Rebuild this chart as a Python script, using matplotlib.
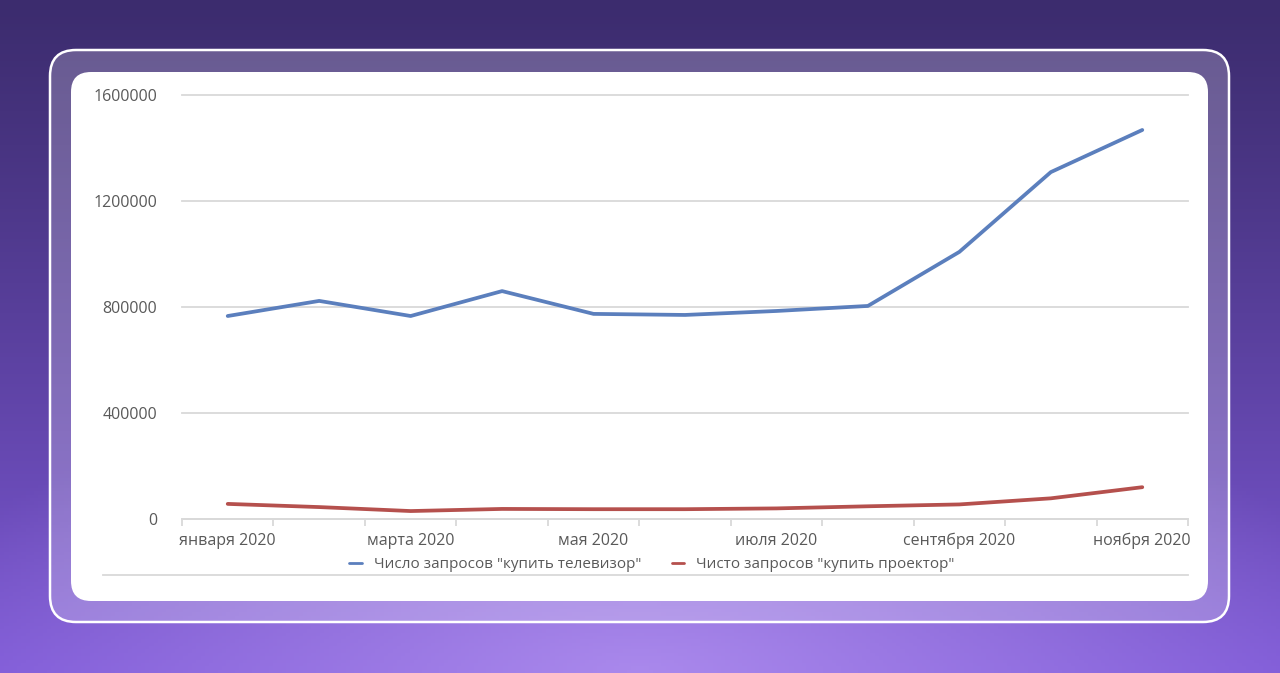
import numpy as np
import matplotlib
matplotlib.use("Agg")
import matplotlib.pyplot as plt
from matplotlib.patches import FancyBboxPatch
from matplotlib.colors import to_rgb

plt.rcParams["font.family"] = ["Open Sans", "DejaVu Sans"]

months = ["января 2020", "февраля 2020", "марта 2020", "апреля 2020", "мая 2020",
          "июня 2020", "июля 2020", "августа 2020", "сентября 2020", "октября 2020",
          "ноября 2020"]
tv_queries = [766000, 823000, 766000, 860000, 774000, 770000, 785000, 804000,
              1008000, 1309000, 1468000]
projector_queries = [57000, 45000, 30000, 38000, 37000, 37000, 40000, 48000,
                     55000, 78000, 120000]
series_names = ['Число запросов "купить телевизор"', 'Чисто запросов "купить проектор"']
y_ticks = [0, 400000, 800000, 1200000, 1600000]

W, H = 1280, 673
fig = plt.figure(figsize=(W / 100, H / 100), dpi=100)

# background gradient
bg = fig.add_axes([0, 0, 1, 1])
bg.set_xlim(0, W)
bg.set_ylim(H, 0)
bg.axis("off")
yy, xx = np.mgrid[0:1:200j, 0:1:300j]
top = np.array(to_rgb("#3c2c6e"))
bot = np.array(to_rgb("#7d58d6"))
glow = np.array(to_rgb("#b595f2"))
t = yy[..., None] ** 1.1
img = top * (1 - t) + bot * t
g = np.clip(1 - np.sqrt(((xx - 0.5) / 0.6) ** 2 + ((yy - 1.0) / 0.45) ** 2), 0, 1)[..., None]
img = img * (1 - 0.8 * g) + glow * 0.8 * g
bg.imshow(img, extent=[0, W, H, 0], aspect="auto", zorder=0)

frame = FancyBboxPatch((50, 50), 1179, 572, boxstyle="round,pad=0,rounding_size=26",
                       facecolor=(1, 1, 1, 0.22), edgecolor="white", linewidth=1.8, zorder=1)
bg.add_patch(frame)
card = FancyBboxPatch((71, 72), 1137, 529, boxstyle="round,pad=0,rounding_size=20",
                      facecolor="white", edgecolor="none", zorder=2)
bg.add_patch(card)
bg.plot([103, 1188], [575, 575], color="#d9d9d9", lw=1.3, zorder=3)

# chart
ax = fig.add_axes([182 / W, (H - 519) / H, 1006 / W, 424 / H])
ax.set_facecolor("none")
x = np.arange(len(months))
ax.plot(x, tv_queries, color="#5b7fbd", lw=2.7, solid_capstyle="round", label=series_names[0], zorder=3)
ax.plot(x, projector_queries, color="#b5504d", lw=2.7, solid_capstyle="round", label=series_names[1], zorder=3)

ax.set_xlim(-0.5, len(months) - 0.5)
ax.set_ylim(0, 1600000)
ax.set_yticks(y_ticks)
ax.set_yticklabels([str(v) for v in y_ticks])
ax.yaxis.grid(True, color="#d9d9d9", lw=1.3, clip_on=False)
ax.set_axisbelow(True)
for s in ["top", "right", "left"]:
    ax.spines[s].set_visible(False)
ax.spines["bottom"].set_color("#d9d9d9")
ax.spines["bottom"].set_linewidth(1.3)

ax.set_xticks(x)
ax.set_xticklabels([m if i % 2 == 0 else "" for i, m in enumerate(months)])
ax.set_xticks(np.arange(-0.5, len(months)), minor=True)
ax.tick_params(axis="x", which="major", length=0, pad=10, labelsize=11.5, labelcolor="#595959")
ax.tick_params(axis="x", which="minor", length=5, width=1.3, color="#d9d9d9")
ax.tick_params(axis="y", length=0, pad=18, labelsize=11.5, labelcolor="#595959")

leg = fig.legend(loc="center", bbox_to_anchor=(652 / W, 1 - 565 / H), ncol=2, frameon=False,
                 fontsize=11, handlelength=0.8, columnspacing=2.0, handletextpad=0.8)
for txt in leg.get_texts():
    txt.set_color("#595959")
for line in leg.get_lines():
    line.set_linewidth(2.0)

fig.savefig("out.png", dpi=100)
